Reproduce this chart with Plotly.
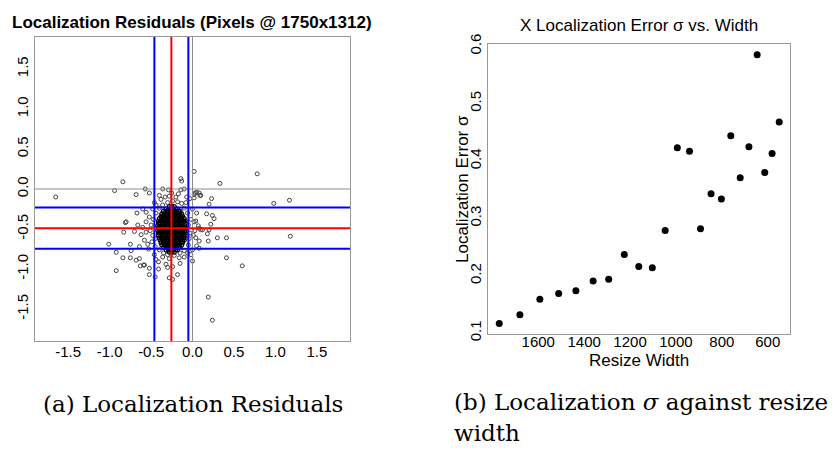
import plotly.graph_objects as go

# ---------------- Panel (a): localization residuals (pixels) ----------------
# scattered residuals (x, y)
resid_x = [-1.65, -0.84, -0.94, -0.57, -0.68, -0.36, 0.02, -0.14, -0.13, -0.10, 0.33, 0.78, 0.98, 1.17, 1.18,
           0.41, 0.41, 0.60, 0.19, 0.24, -1.01, -0.92, -0.92, -0.84, -0.81, -0.83, -0.74, -0.75, -0.75, -0.68,
           -0.63, -0.59, -0.52, -0.52, -0.45, -0.41, -0.28, -0.24, -0.18, -0.15, -0.24, -0.32, 0.00, 0.08, 0.07,
           0.12, 0.18, 0.19, 0.30, 0.22, 0.17, 0.24, 0.26, 0.20, 0.23, 0.08, 0.05, 0.09, 0.02, -0.03,
           -0.52, -0.40, -0.29, -0.28, -0.20, -0.14, -0.07, 0.03, 0.10, 0.02, 0.02, 0.04, 0.08, 0.10, 0.20,
           0.04, 0.08, 0.05, 0.00, -0.06, -0.16, -0.30, -0.41, -0.46, -0.58, -0.64, -0.80, -0.70, -0.66, -0.67,
           -0.60, -0.56, -0.52, -0.56, -0.62, -0.56, -0.58, -0.54, -0.64, -0.46, -0.44, -0.48,
           -0.50, -0.48, -0.47, -0.49, -0.45, -0.40, -0.35, -0.30, -0.22, -0.15, -0.10, -0.05, -0.04, -0.03,
           -0.05, -0.02, -0.06, -0.10, -0.13, -0.18, -0.24, -0.30, -0.36, -0.40, -0.44, -0.38, -0.33, -0.25,
           -0.17, -0.08, 0.00, 0.05, 0.03, 0.01, -0.02, -0.10, -0.28, -0.36, -0.44, -0.53, -0.51, -0.45, -0.60]
resid_y = [-0.10, 0.09, -0.02, 0.00, -0.07, 0.00, 0.22, 0.13, 0.10, 0.00, 0.07, 0.19, -0.18, -0.14, -0.59,
           -0.61, -0.86, -0.96, -1.35, -1.64, -0.69, -0.79, -1.02, -0.86, -0.42, -0.54, -0.77, -0.86, -0.69, -0.89,
           -0.96, -0.95, -1.07, -0.99, -1.10, -1.00, -1.11, -1.13, -1.07, -0.93, -0.97, -0.94, -0.90, -0.74, -0.46,
           -0.51, -0.56, -0.65, -0.61, -0.44, -0.31, -0.33, -0.37, -0.19, -0.12, -0.05, -0.04, -0.08, -0.07, -0.12,
           -0.05, -0.08, -0.01, -0.09, -0.10, -0.01, -0.10, -0.05, -0.08, -0.11, -0.41, -0.40, -0.49, -0.51, -0.51,
           -0.61, -0.65, -0.71, -0.76, -0.80, -0.86, -0.98, -0.91, -0.82, -0.95, -0.87, -0.41, -0.53, -0.45, -0.30,
           -0.25, -0.29, -0.35, -0.41, -0.57, -0.54, -0.64, -0.69, -0.72, -0.17, -0.20, -0.25,
           -0.45, -0.58, -0.38, -0.66, -0.72, -0.76, -0.80, -0.82, -0.83, -0.80, -0.77, -0.70, -0.62, -0.55,
           -0.45, -0.38, -0.30, -0.24, -0.18, -0.16, -0.15, -0.17, -0.20, -0.24, -0.30, -0.13, -0.10, -0.05,
           -0.06, -0.17, -0.25, -0.30, -0.52, -0.58, -0.82, -0.85, -0.87, -0.85, -0.88, -0.75, -0.52, -0.62, -0.48]

# dense core of residuals (unreadable individually), estimated row by row
core_row_y = [-0.22, -0.25, -0.28, -0.31, -0.34, -0.37, -0.40, -0.43, -0.46, -0.49,
              -0.52, -0.55, -0.58, -0.61, -0.64, -0.67, -0.70, -0.73, -0.76, -0.79]
core_row_x = [
    [-0.28, -0.25, -0.22],
    [-0.32, -0.29, -0.26, -0.23, -0.20, -0.18],
    [-0.35, -0.32, -0.29, -0.26, -0.23, -0.20, -0.17, -0.15],
    [-0.37, -0.34, -0.31, -0.28, -0.25, -0.22, -0.19, -0.16, -0.13],
    [-0.38, -0.35, -0.32, -0.29, -0.26, -0.23, -0.20, -0.17, -0.14, -0.12],
    [-0.40, -0.37, -0.34, -0.31, -0.28, -0.25, -0.22, -0.19, -0.16, -0.13, -0.10],
    [-0.41, -0.38, -0.35, -0.32, -0.29, -0.26, -0.23, -0.20, -0.17, -0.14, -0.11, -0.09],
    [-0.41, -0.39, -0.36, -0.33, -0.30, -0.27, -0.24, -0.21, -0.18, -0.15, -0.12, -0.09],
    [-0.42, -0.39, -0.36, -0.33, -0.30, -0.27, -0.24, -0.21, -0.18, -0.15, -0.12, -0.09],
    [-0.42, -0.40, -0.37, -0.34, -0.31, -0.28, -0.25, -0.22, -0.19, -0.16, -0.13, -0.10, -0.08],
    [-0.42, -0.39, -0.36, -0.33, -0.30, -0.27, -0.24, -0.21, -0.18, -0.15, -0.12, -0.09],
    [-0.41, -0.38, -0.35, -0.32, -0.29, -0.26, -0.23, -0.20, -0.17, -0.14, -0.11, -0.09],
    [-0.41, -0.38, -0.35, -0.32, -0.29, -0.26, -0.23, -0.20, -0.17, -0.14, -0.11, -0.09],
    [-0.40, -0.37, -0.34, -0.31, -0.28, -0.25, -0.22, -0.19, -0.16, -0.13, -0.10],
    [-0.39, -0.36, -0.33, -0.30, -0.27, -0.24, -0.21, -0.18, -0.15, -0.12, -0.10],
    [-0.38, -0.35, -0.32, -0.29, -0.26, -0.23, -0.20, -0.17, -0.14, -0.12],
    [-0.37, -0.34, -0.31, -0.28, -0.25, -0.22, -0.19, -0.16, -0.13],
    [-0.35, -0.32, -0.29, -0.26, -0.23, -0.20, -0.17, -0.15],
    [-0.32, -0.29, -0.26, -0.23, -0.20, -0.18],
    [-0.28, -0.25, -0.22],
]

# summary statistics shown as lines
x_mean, x_sd = -0.255, 0.205
y_mean, y_sd = -0.49, 0.258
left_ticks = [-1.5, -1.0, -0.5, 0.0, 0.5, 1.0, 1.5]
left_tick_text = ["-1.5", "-1.0", "-0.5", "0.0", "0.5", "1.0", "1.5"]

# ---------------- Panel (b): sigma vs resize width ----------------
widths = [1770, 1680, 1593, 1511, 1436, 1361, 1293, 1225, 1162, 1103, 1047, 994,
          941, 893, 847, 802, 761, 720, 682, 646, 613, 581, 550]
sigmas = [0.117, 0.132, 0.159, 0.169, 0.174, 0.191, 0.194, 0.237, 0.216, 0.214, 0.279, 0.423,
          0.417, 0.282, 0.343, 0.334, 0.444, 0.371, 0.425, 0.585, 0.380, 0.413, 0.468]
right_xticks = [1600, 1400, 1200, 1000, 800, 600]
right_yticks = [0.1, 0.2, 0.3, 0.4, 0.5, 0.6]

W, H = 835, 452
core_x = [x for row in core_row_x for x in row]
core_y = [y for row, y in zip(core_row_x, core_row_y) for _ in row]

fig = go.Figure()
fig.add_trace(go.Scatter(x=resid_x, y=resid_y, mode="markers",
                         marker=dict(symbol="circle-open", size=4, color="#444", line=dict(width=1)),
                         xaxis="x", yaxis="y", showlegend=False))
fig.add_trace(go.Scatter(x=core_x, y=core_y, mode="markers",
                         marker=dict(symbol="circle-open", size=4, color="#000", line=dict(width=1.2)),
                         xaxis="x", yaxis="y", showlegend=False))
fig.add_trace(go.Scatter(x=widths, y=sigmas, mode="markers",
                         marker=dict(symbol="circle", size=7, color="black"),
                         xaxis="x2", yaxis="y2", showlegend=False))

shapes = []
def vline(x, color, w):
    shapes.append(dict(type="line", xref="x", yref="y domain", x0=x, x1=x, y0=0, y1=1,
                       line=dict(color=color, width=w), layer="above"))
def hline(y, color, w):
    shapes.append(dict(type="line", xref="x domain", yref="y", x0=0, x1=1, y0=y, y1=y,
                       line=dict(color=color, width=w), layer="above"))
vline(0, "#8c8c8c", 1)
hline(0, "#8c8c8c", 1)
vline(x_mean - x_sd, "#0000ff", 2)
vline(x_mean + x_sd, "#0000ff", 2)
hline(y_mean - y_sd, "#0000ff", 2)
hline(y_mean + y_sd, "#0000ff", 2)
vline(x_mean, "#ff0000", 2)
hline(y_mean, "#ff0000", 2)

sans = "Liberation Sans, Arial"
tickfont = dict(family=sans, size=15, color="black")
axis_common = dict(showgrid=False, zeroline=False, showline=True, mirror=True,
                   linecolor="#999999", linewidth=1, ticks="", tickfont=tickfont)

def ann(text, x, y, size, family=sans, xanchor="center", yanchor="middle", angle=0):
    return dict(text=text, xref="paper", yref="paper", x=x / W, y=1 - y / H,
                xanchor=xanchor, yanchor=yanchor, showarrow=False, textangle=angle,
                font=dict(family=family, size=size, color="black"))

fig.update_layout(
    width=W, height=H, margin=dict(l=0, r=0, t=0, b=0),
    paper_bgcolor="white", plot_bgcolor="white",
    xaxis=dict(domain=[35 / W, 350 / W], range=[-1.9, 1.9], tickvals=left_ticks,
               ticktext=left_tick_text, anchor="y", ticklabelstandoff=-3, **axis_common),
    yaxis=dict(domain=[1 - 344 / H, 1 - 28 / H], range=[-1.9, 1.9], tickvals=left_ticks,
               ticktext=left_tick_text, tickangle=-90, anchor="x", **axis_common),
    xaxis2=dict(domain=[488 / W, 790 / W], range=[1819, 503], tickvals=right_xticks,
                anchor="y2", ticklabelstandoff=-6, **axis_common),
    yaxis2=dict(domain=[1 - 337 / H, 1 - 35 / H], range=[0.098, 0.6045], tickvals=right_yticks,
                ticktext=["0.1", "0.2", "0.3", "0.4", "0.5", "0.6"], tickangle=-90, anchor="x2",
                **axis_common),
    shapes=shapes,
    annotations=[
        ann("<b>Localization Residuals (Pixels @ 1750x1312)</b>", 192, 1, 17, yanchor="top"),
        ann("X Localization Error σ vs. Width", 639, 4, 17, yanchor="top"),
        ann("Resize Width", 639, 364, 17),
        ann("Localization Error σ", 462, 186, 17, angle=-90),
        ann("(a) Localization Residuals", 192.5, 409, 23, family="DejaVu Serif"),
        ann("(b) Localization <i>σ</i> against resize", 452, 407, 23, family="DejaVu Serif",
            xanchor="left"),
        ann("width", 452, 440, 23, family="DejaVu Serif", xanchor="left"),
    ],
)

fig.write_html("out.html")
